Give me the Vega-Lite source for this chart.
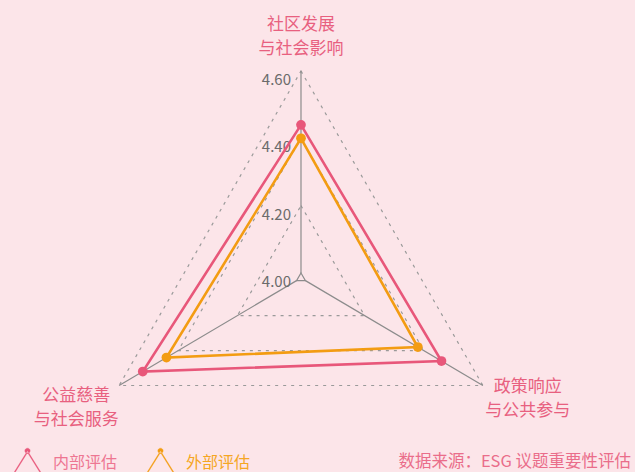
{
  "$schema": "https://vega.github.io/schema/vega-lite/v6.json",
  "width": 635,
  "height": 472,
  "autosize": "none",
  "padding": 0,
  "background": "#fce5e9",
  "config": {"view": {"stroke": null}, "font": "Noto Sans CJK SC"},
  "title": {"text": "数据来源：ESG 议题重要性评估", "orient": "bottom", "anchor": "end", "frame": "group", "offset": -22, "dx": -4, "fontSize": 16.5, "fontWeight": "normal", "color": "#ea6d8a", "font": "Noto Sans CJK SC"},
  "datasets": {
    "scores": [
      {"series": "内部评估", "axis": 0, "dimension": "社区发展与社会影响", "value": 4.44},
      {"series": "内部评估", "axis": 1, "dimension": "政策响应与公共参与", "value": 4.46},
      {"series": "内部评估", "axis": 2, "dimension": "公益慈善与社会服务", "value": 4.52},
      {"series": "外部评估", "axis": 0, "dimension": "社区发展与社会影响", "value": 4.40},
      {"series": "外部评估", "axis": 1, "dimension": "政策响应与公共参与", "value": 4.38},
      {"series": "外部评估", "axis": 2, "dimension": "公益慈善与社会服务", "value": 4.44}
    ],
    "axes": [
      {"axis": 0, "name": "社区发展\n与社会影响"},
      {"axis": 1, "name": "政策响应\n与公共参与"},
      {"axis": 2, "name": "公益慈善\n与社会服务"}
    ],
    "grid": [
      {"level": 4.0, "axis": 0}, {"level": 4.0, "axis": 1}, {"level": 4.0, "axis": 2},
      {"level": 4.2, "axis": 0}, {"level": 4.2, "axis": 1}, {"level": 4.2, "axis": 2},
      {"level": 4.4, "axis": 0}, {"level": 4.4, "axis": 1}, {"level": 4.4, "axis": 2},
      {"level": 4.6, "axis": 0}, {"level": 4.6, "axis": 1}, {"level": 4.6, "axis": 2}
    ]
  },
  "layer": [
    {
      "data": {"name": "grid"},
      "transform": [
        {"filter": "datum.level > 4.01"},
        {"calculate": "(datum.level - 3.985) / 0.615", "as": "r"},
        {"calculate": "datum.axis * 2 * PI / 3", "as": "ang"},
        {"calculate": "datum.r * sin(datum.ang)", "as": "px"},
        {"calculate": "datum.r * cos(datum.ang)", "as": "py"}
      ],
      "mark": {"type": "line", "interpolate": "linear-closed", "stroke": "#9a9a9a", "strokeWidth": 1.2, "strokeDash": [3, 5]},
      "encoding": {
        "x": {"field": "px", "type": "quantitative", "scale": {"domain": [-1.4333, 1.5905], "nice": false, "zero": false}, "axis": null},
        "y": {"field": "py", "type": "quantitative", "scale": {"domain": [-0.9023, 0, 1.343], "range": [472, 278, 0], "nice": false, "zero": false}, "axis": null},
        "detail": {"field": "level", "type": "nominal"},
        "order": {"field": "axis", "type": "quantitative"}
      }
    },
    {
      "data": {"name": "grid"},
      "transform": [
        {"filter": "datum.level < 4.01"},
        {"calculate": "(datum.level - 3.985) / 0.615", "as": "r"},
        {"calculate": "datum.axis * 2 * PI / 3", "as": "ang"},
        {"calculate": "datum.r * sin(datum.ang)", "as": "px"},
        {"calculate": "datum.r * cos(datum.ang)", "as": "py"}
      ],
      "mark": {"type": "line", "interpolate": "linear-closed", "stroke": "#8c8c8c", "strokeWidth": 1.2},
      "encoding": {
        "x": {"field": "px", "type": "quantitative", "axis": null},
        "y": {"field": "py", "type": "quantitative", "axis": null},
        "detail": {"field": "level", "type": "nominal"},
        "order": {"field": "axis", "type": "quantitative"}
      }
    },
    {
      "data": {"name": "axes"},
      "transform": [
        {"calculate": "datum.axis * 2 * PI / 3", "as": "ang"},
        {"calculate": "(4.0 - 3.985) / 0.615 * sin(datum.ang)", "as": "px0"},
        {"calculate": "(4.0 - 3.985) / 0.615 * cos(datum.ang)", "as": "py0"},
        {"calculate": "sin(datum.ang)", "as": "px"},
        {"calculate": "cos(datum.ang)", "as": "py"}
      ],
      "mark": {"type": "rule", "stroke": "#8c8c8c", "strokeWidth": 1.2},
      "encoding": {
        "x": {"field": "px0", "type": "quantitative", "axis": null},
        "y": {"field": "py0", "type": "quantitative", "axis": null},
        "x2": {"field": "px"},
        "y2": {"field": "py"}
      }
    },
    {
      "data": {"name": "grid"},
      "transform": [
        {"filter": "datum.axis == 0"},
        {"calculate": "(datum.level - 3.985) / 0.615", "as": "py"},
        {"calculate": "0", "as": "px"}
      ],
      "mark": {"type": "text", "align": "right", "baseline": "middle", "dx": -10, "dy": 9, "fontSize": 15, "color": "#6b6b6b"},
      "encoding": {
        "x": {"field": "px", "type": "quantitative", "axis": null},
        "y": {"field": "py", "type": "quantitative", "axis": null},
        "text": {"field": "level", "type": "quantitative", "format": ".2f"}
      }
    },
    {
      "data": {"name": "axes"},
      "transform": [
        {"filter": "datum.axis == 0"},
        {"calculate": "datum.axis * 2 * PI / 3", "as": "ang"},
        {"calculate": "sin(datum.ang)", "as": "px"},
        {"calculate": "cos(datum.ang)", "as": "py"}
      ],
      "mark": {"type": "text", "align": "center", "baseline": "bottom", "dy": -37, "fontSize": 17, "lineHeight": 24, "lineBreak": "\n", "color": "#e8607f"},
      "encoding": {
        "x": {"field": "px", "type": "quantitative", "axis": null},
        "y": {"field": "py", "type": "quantitative", "axis": null},
        "text": {"field": "name", "type": "nominal"}
      }
    },
    {
      "data": {"name": "axes"},
      "transform": [
        {"filter": "datum.axis == 1"},
        {"calculate": "datum.axis * 2 * PI / 3", "as": "ang"},
        {"calculate": "sin(datum.ang)", "as": "px"},
        {"calculate": "cos(datum.ang)", "as": "py"}
      ],
      "mark": {"type": "text", "align": "center", "baseline": "top", "dx": 45, "dy": -7, "fontSize": 17, "lineHeight": 24, "lineBreak": "\n", "color": "#e8607f"},
      "encoding": {
        "x": {"field": "px", "type": "quantitative", "axis": null},
        "y": {"field": "py", "type": "quantitative", "axis": null},
        "text": {"field": "name", "type": "nominal"}
      }
    },
    {
      "data": {"name": "axes"},
      "transform": [
        {"filter": "datum.axis == 2"},
        {"calculate": "datum.axis * 2 * PI / 3", "as": "ang"},
        {"calculate": "sin(datum.ang)", "as": "px"},
        {"calculate": "cos(datum.ang)", "as": "py"}
      ],
      "mark": {"type": "text", "align": "center", "baseline": "top", "dx": -43, "dy": 2, "fontSize": 17, "lineHeight": 24, "lineBreak": "\n", "color": "#e8607f"},
      "encoding": {
        "x": {"field": "px", "type": "quantitative", "axis": null},
        "y": {"field": "py", "type": "quantitative", "axis": null},
        "text": {"field": "name", "type": "nominal"}
      }
    },
    {
      "data": {"name": "scores"},
      "transform": [
        {"calculate": "(datum.value - 3.985) / 0.615", "as": "r"},
        {"calculate": "datum.axis * 2 * PI / 3", "as": "ang"},
        {"calculate": "datum.r * sin(datum.ang)", "as": "px"},
        {"calculate": "datum.r * cos(datum.ang)", "as": "py"}
      ],
      "mark": {"type": "line", "interpolate": "linear-closed", "strokeWidth": 2.6},
      "encoding": {
        "x": {"field": "px", "type": "quantitative", "axis": null},
        "y": {"field": "py", "type": "quantitative", "axis": null},
        "order": {"field": "axis", "type": "quantitative"},
        "color": {
          "field": "series", "type": "nominal",
          "scale": {"domain": ["内部评估", "外部评估"], "range": ["#e8577a", "#f39c12"]},
          "legend": {
            "title": null, "orient": "none", "legendX": 15, "legendY": 450, "direction": "horizontal",
            "symbolType": "M-1.25,1L0,-1L1.25,1L1.16,1L0,-0.86L-1.16,1Z M-0.22,-1A0.22,0.22,0,1,0,0.22,-1A0.22,0.22,0,1,0,-0.22,-1Z",
            "symbolSize": 576, "symbolStrokeWidth": 0.4,
            "labelFontSize": 16, "labelOffset": 13, "columnPadding": 26, "labelFont": "Noto Sans CJK SC",
            "labelColor": {"expr": "datum.label === '内部评估' ? '#ee7692' : '#f5a623'"}
          }
        }
      }
    },
    {
      "data": {"name": "scores"},
      "transform": [
        {"calculate": "(datum.value - 3.985) / 0.615", "as": "r"},
        {"calculate": "datum.axis * 2 * PI / 3", "as": "ang"},
        {"calculate": "datum.r * sin(datum.ang)", "as": "px"},
        {"calculate": "datum.r * cos(datum.ang)", "as": "py"}
      ],
      "mark": {"type": "point", "filled": true, "size": 95, "opacity": 1},
      "encoding": {
        "x": {"field": "px", "type": "quantitative", "axis": null},
        "y": {"field": "py", "type": "quantitative", "axis": null},
        "fill": {"field": "series", "type": "nominal", "scale": {"domain": ["内部评估", "外部评估"], "range": ["#e8577a", "#f39c12"]}, "legend": null}
      }
    }
  ]
}
